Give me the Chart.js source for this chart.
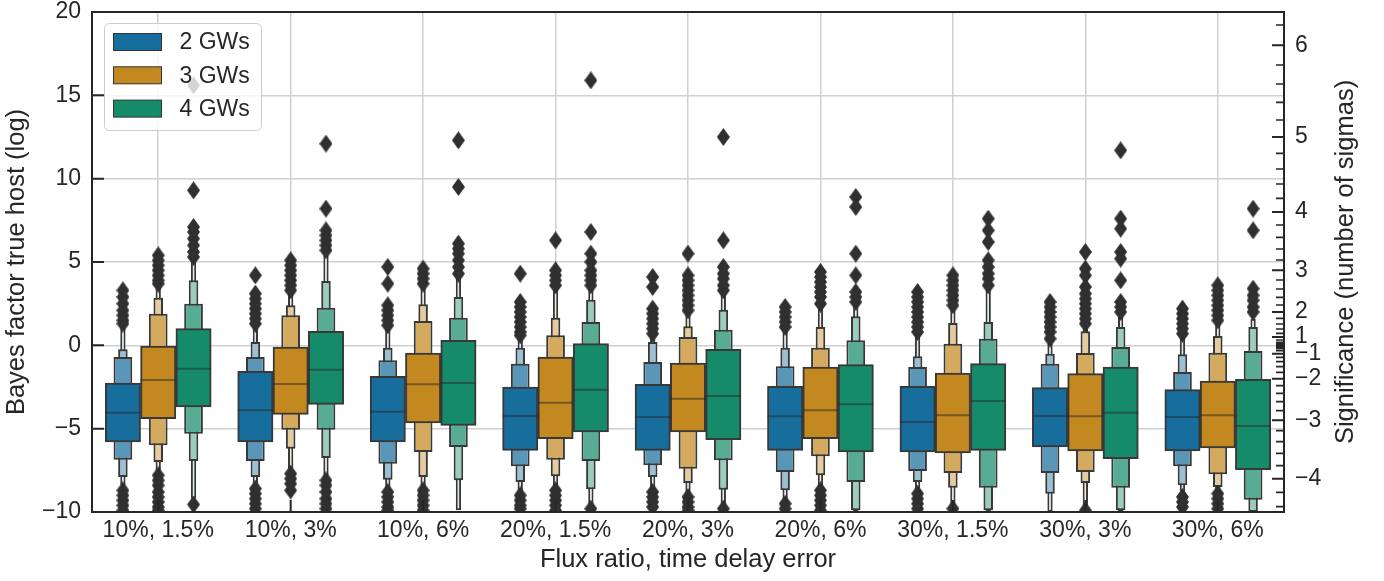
<!DOCTYPE html>
<html>
<head>
<meta charset="utf-8">
<script src="https://cdn.jsdelivr.net/npm/chart.js@4.4.0/dist/chart.umd.min.js"></script>
<style>
  html, body { margin: 0; padding: 0; background: #fff; }
  #wrap { width: 1384px; height: 581px; }
</style>
</head>
<body>
<div id="wrap"><canvas id="boxen-chart" width="1384" height="581"></canvas></div>
<script>
const categories = ["10%, 1.5%", "10%, 3%", "10%, 6%", "20%, 1.5%", "20%, 3%", "20%, 6%", "30%, 1.5%", "30%, 3%", "30%, 6%"]
const groups = ["2 GWs", "3 GWs", "4 GWs"]
const groupColors = ["#176d9c", "#c38820", "#168b6a"]
const yTicks = [-10, -5, 0, 5, 10, 15, 20]
const sigmaTicks = [6, 5, 4, 3, 2, 1, -1, -2, -3, -4]

// letter values per box: [L4 lo, L3 lo, L2 lo, Q1, median, Q3, L2 hi, L3 hi, L4 hi]
const lv2GW = [
  [-8.4, -7.9, -6.86, -5.8, -4.04, -2.26, -0.7, -0.24, 1.14],
  [-8.4, -7.9, -6.94, -5.8, -3.9, -1.56, -0.7, 0.2, 1.1],
  [-8.6, -8.06, -7.1, -5.8, -3.98, -1.86, -0.9, -0.14, 1.1],
  [-8.8, -8.2, -7.26, -6.3, -4.24, -2.5, -1.1, -0.14, 0.46],
  [-8.6, -7.9, -7.2, -6.3, -4.3, -2.34, -1.0, 0.2, 0.5],
  [-9.3, -8.7, -7.6, -6.3, -4.26, -2.46, -1.26, -0.14, 0.9],
  [-8.7, -8.2, -7.54, -6.4, -4.6, -2.46, -1.3, -0.66, 0.5],
  [-10, -8.9, -7.66, -6.1, -4.24, -2.54, -1.1, -0.5, 0.1],
  [-8.9, -8.4, -7.26, -6.34, -4.3, -2.66, -1.6, -0.54, 0.5]
]
const lv3GW = [
  [-7.5, -7.0, -6.0, -4.4, -2.08, 0.0, 1.9, 2.86, 3.5],
  [-7.4, -6.2, -5.06, -4.14, -2.32, -0.1, 1.8, 2.4, 3.1],
  [-8.5, -7.9, -6.4, -4.66, -2.34, -0.46, 1.46, 2.46, 3.46],
  [-8.5, -7.86, -6.86, -5.6, -3.44, -0.7, 0.6, 1.66, 3.4],
  [-8.9, -8.26, -7.4, -5.2, -3.2, -1.06, 0.5, 1.14, 1.9],
  [-8.5, -7.8, -6.66, -5.6, -3.9, -1.3, -0.14, 1.1, 2.26],
  [-9.6, -8.54, -7.66, -6.46, -4.2, -1.66, 0.1, 1.34, 2.2],
  [-9.7, -8.26, -7.6, -6.34, -4.26, -1.7, -0.46, 0.84, 1.1],
  [-8.7, -8.5, -7.74, -6.16, -4.2, -2.14, -0.44, 0.56, 1.2]
]
const lv4GW = [
  [-9.2, -6.94, -5.3, -3.7, -1.4, 1.0, 2.5, 3.9, 5.1],
  [-7.9, -6.76, -5.06, -3.54, -1.46, 0.84, 2.26, 3.86, 5.4],
  [-9.9, -8.1, -6.1, -4.8, -2.26, 0.3, 1.66, 2.9, 4.1],
  [-9.7, -8.64, -6.94, -5.2, -2.66, 0.1, 1.4, 2.74, 3.4],
  [-9.6, -8.66, -6.9, -5.66, -3.04, -0.24, 0.94, 2.14, 3.1],
  [-10, -9.9, -8.2, -6.4, -3.54, -1.16, 0.3, 1.74, 2.4],
  [-10, -9.9, -8.54, -6.3, -3.34, -1.1, 0.4, 1.4, 3.3],
  [-10, -9.9, -8.54, -6.8, -4.04, -1.3, -0.1, 1.1, 1.7],
  [-10, -10, -9.26, -7.46, -4.84, -2.04, -0.34, 1.1, 1.6]
]

// outliers per box
const fliers2GW = [
  [3.3, 2.9, 2.5, 2.1, 1.8, 1.5, 1.3, -8.7, -9.0, -9.3, -9.6, -9.9],
  [4.2, 3.1, 2.8, 2.5, 2.2, 1.9, 1.6, 1.3, -8.6, -8.9, -9.2, -9.5, -9.8],
  [4.7, 3.7, 2.4, 2.1, 1.8, 1.5, 1.2, -8.8, -9.1, -9.4, -9.7, -9.9],
  [4.3, 2.6, 2.3, 2.0, 1.7, 1.4, 1.1, 0.8, 0.6, -9.0, -9.3, -9.6, -9.8],
  [4.1, 3.5, 2.2, 1.9, 1.6, 1.3, 1.0, 0.7, -8.8, -9.1, -9.4, -9.7],
  [2.3, 2.0, 1.7, 1.4, 1.1, -9.5, -9.8],
  [3.2, 2.9, 2.6, 2.3, 2.0, 1.7, 1.4, 1.1, 0.8, -8.9, -9.2, -9.5, -9.8],
  [2.6, 2.3, 2.0, 1.7, 1.4, 1.1, 0.8, 0.4],
  [2.2, 1.9, 1.6, 1.3, 1.0, 0.7, -9.1, -9.4, -9.7]
]
const fliers3GW = [
  [5.4, 5.1, 4.8, 4.5, 4.2, 3.9, 3.7, -7.8, -8.1, -8.4, -8.8, -9.1, -9.4, -9.7, -9.9],
  [5.1, 4.8, 4.5, 4.2, 3.9, 3.6, 3.3, -7.7, -8.0, -8.3, -8.7],
  [4.6, 4.3, 4.0, 3.7, -8.7, -9.0, -9.3, -9.6, -9.9],
  [6.3, 4.5, 4.2, 3.9, 3.6, -8.7, -9.0, -9.3, -9.6, -9.9],
  [5.5, 4.2, 3.9, 3.6, 3.3, 3.0, 2.7, 2.4, 2.1, -9.1, -9.4, -9.7, -9.9],
  [4.4, 4.1, 3.8, 3.5, 3.2, 2.9, 2.5, -8.7, -9.0, -9.3, -9.6, -9.9],
  [4.2, 3.9, 3.6, 3.3, 3.0, 2.7, 2.4, -9.8],
  [5.6, 4.6, 4.2, 3.5, 3.1, 2.8, 2.5, 2.2, 1.9, 1.6, 1.3, -9.9],
  [3.6, 3.3, 3.0, 2.7, 2.4, 2.1, 1.8, 1.5, -8.9, -9.2, -9.5, -9.8]
]
const fliers4GW = [
  [15.6, 9.3, 7.1, 6.8, 6.4, 6.0, 5.6, 5.3, -9.55],
  [12.1, 8.2, 6.9, 6.6, 6.3, 6.0, 5.7, -8.1, -8.4, -8.8, -9.2, -9.5, -9.8],
  [12.3, 9.5, 6.1, 5.8, 5.5, 5.1, 4.7, 4.3],
  [15.9, 6.8, 5.5, 5.0, 4.5, 4.2, 3.9, 3.6, -9.8],
  [12.5, 6.3, 4.7, 4.3, 4.0, 3.6, 3.3, -9.8],
  [8.9, 8.3, 5.5, 4.2, 3.2, 2.9, 2.6],
  [7.6, 6.9, 6.2, 5.1, 4.7, 4.3, 4.0, 3.6],
  [11.7, 7.6, 7.0, 5.6, 5.2, 3.9, 2.6, 2.3, 2.0],
  [8.2, 6.9, 3.4, 3.0, 2.7, 2.3, 2.0]
]

const letterValues = [lv2GW, lv3GW, lv4GW]
const fliers = [fliers2GW, fliers3GW, fliers4GW]

const edgeColor = "#383838"
const textColor = "#262626"
const gridColor = "#d0d0d0"
const fontFamily = "'Liberation Sans', Arial, sans-serif"
const hueWidth = 0.8 / 3
const levelMix = [0, 0.283, 0.567, 0.85]     // towards white, inner -> outer
const levelWidth = [1, 0.53, 0.27, 0.15]     // fraction of hue width

function fmt(v) {
  return v < 0 ? "\u2212" + Math.abs(v) : String(v)
}

function mixWhite(hex, t) {
  const n = parseInt(hex.slice(1), 16)
  const r = (n >> 16) & 255, g = (n >> 8) & 255, b = n & 255
  const m = c => Math.round(c + (255 - c) * t)
  return `rgb(${m(r)}, ${m(g)}, ${m(b)})`
}

function sigmaToLogB(s) {
  return s * Math.abs(s) / 2
}

function diamondMarker(w, h, color) {
  const c = document.createElement("canvas")
  c.width = w
  c.height = h
  const g = c.getContext("2d")
  g.fillStyle = color
  g.beginPath()
  g.moveTo(w / 2, 0)
  g.lineTo(w, h / 2)
  g.lineTo(w / 2, h)
  g.lineTo(0, h / 2)
  g.closePath()
  g.fill()
  return c
}
const diamond = diamondMarker(13, 18, "#303030")

let datasets = []
groups.forEach((name, g) => {
  const off = (g - 1) * hueWidth
  const lv = letterValues[g]
  // outer levels first so the inner boxes sit on top
  for (let k = 1; k <= 4; k++) {
    datasets.push({
      type: "bar",
      label: name + " L" + k,
      data: categories.map((c, i) => ({x: i + off, y: [lv[i][4 - k], lv[i][4 + k]]})),
      backgroundColor: mixWhite(groupColors[g], levelMix[k - 1]),
      borderColor: edgeColor,
      borderWidth: 2,
      borderSkipped: false,
      grouped: false,
      categoryPercentage: 1,
      barPercentage: levelWidth[k - 1],
      order: 2 + k
    })
  }
  datasets.push({
    type: "scatter",
    label: name + " median",
    data: categories.map((c, i) => ({x: i + off, y: lv[i][4]})),
    pointStyle: "line",
    pointRadius: 17.6,
    pointBorderWidth: 2,
    pointBorderColor: "rgba(40, 40, 40, 0.5)",
    order: 1
  })
  let pts = []
  fliers[g].forEach((vals, i) => vals.forEach(v => pts.push({x: i + off, y: v})))
  datasets.push({
    type: "scatter",
    label: name + " outliers",
    data: pts,
    pointStyle: diamond,
    pointRadius: 6,
    order: 0
  })
})

const frame = {
  id: "frame",
  afterDatasetsDraw(chart) {
    const {ctx, chartArea: a, scales} = chart
    ctx.save()
    ctx.strokeStyle = textColor
    ctx.lineWidth = 2
    ctx.beginPath()
    yTicks.forEach(v => {
      const y = scales.y.getPixelForValue(v)
      ctx.moveTo(a.left, y)
      ctx.lineTo(a.left + 12, y)
    })
    categories.forEach((c, i) => {
      const x = scales.x.getPixelForValue(i)
      ctx.moveTo(x, a.bottom)
      ctx.lineTo(x, a.bottom - 12)
    })
    sigmaTicks.forEach(s => {
      const y = scales.y2.getPixelForValue(sigmaToLogB(s))
      ctx.moveTo(a.right, y)
      ctx.lineTo(a.right - 12, y)
    })
    ctx.stroke()

    // minor ticks every 0.2 sigma
    ctx.lineWidth = 1.6
    ctx.beginPath()
    for (let n = -22; n <= 31; n++) {
      if (n % 5 === 0) continue
      const y = scales.y2.getPixelForValue(sigmaToLogB(n / 5))
      ctx.moveTo(a.right, y)
      ctx.lineTo(a.right - 8, y)
    }
    ctx.stroke()

    ctx.lineWidth = 2
    ctx.strokeRect(a.left, a.top, a.right - a.left, a.bottom - a.top)

    // right axis title reads bottom to top
    ctx.translate(1346, (a.top + a.bottom) / 2)
    ctx.rotate(-Math.PI / 2)
    ctx.fillStyle = textColor
    ctx.font = "25.5px " + fontFamily
    ctx.textAlign = "center"
    ctx.textBaseline = "middle"
    ctx.fillText("Significance (number of sigmas)", 0, 0)
    ctx.restore()
  }
}

const legendBox = {
  id: "legendBox",
  afterDatasetsDraw(chart) {
    const {ctx, chartArea: a} = chart
    const x0 = a.left + 12.5, y0 = a.top + 11.5, w = 157, h = 107, r = 5
    ctx.save()
    ctx.beginPath()
    ctx.moveTo(x0 + r, y0)
    ctx.arcTo(x0 + w, y0, x0 + w, y0 + h, r)
    ctx.arcTo(x0 + w, y0 + h, x0, y0 + h, r)
    ctx.arcTo(x0, y0 + h, x0, y0, r)
    ctx.arcTo(x0, y0, x0 + w, y0, r)
    ctx.closePath()
    ctx.fillStyle = "rgba(255, 255, 255, 0.8)"
    ctx.fill()
    ctx.strokeStyle = "#cccccc"
    ctx.lineWidth = 1
    ctx.stroke()
    ctx.font = "23px " + fontFamily
    ctx.textBaseline = "middle"
    groups.forEach((name, i) => {
      const cy = y0 + 18.5 + i * 33.3
      ctx.fillStyle = groupColors[i]
      ctx.fillRect(x0 + 9, cy - 8.5, 48, 17)
      ctx.strokeStyle = "#333333"
      ctx.strokeRect(x0 + 9, cy - 8.5, 48, 17)
      ctx.fillStyle = textColor
      ctx.fillText(name, x0 + 75, cy + 1)
    })
    ctx.restore()
  }
}

function fixVertical(width) {
  return s => {
    s.width = width
    s.paddingTop = 0
    s.paddingBottom = 0
  }
}

Chart.defaults.font.family = fontFamily
Chart.defaults.color = textColor

const ctx = document.getElementById("boxen-chart").getContext("2d")
new Chart(ctx, {
  type: "bar",
  data: {datasets: datasets},
  plugins: [frame, legendBox],
  options: {
    responsive: false,
    devicePixelRatio: 1,
    animation: false,
    events: [],
    layout: {autoPadding: false, padding: {top: 12, left: 0, right: 0, bottom: 0}},
    plugins: {
      legend: {display: false},
      tooltip: {enabled: false}
    },
    scales: {
      x: {
        type: "linear",
        min: -0.5,
        max: 8.5,
        offset: false,
        afterBuildTicks: s => { s.ticks = categories.map((c, i) => ({value: i})) },
        afterFit: s => { s.height = 69; s.paddingLeft = 0; s.paddingRight = 0 },
        grid: {color: gridColor, lineWidth: 1.5, drawTicks: false, offset: false},
        border: {display: false},
        ticks: {
          callback: (v, i) => categories[i],
          font: {size: 23, lineHeight: 1.2},
          padding: 5,
          maxRotation: 0,
          autoSkip: false
        },
        title: {display: true, text: "Flux ratio, time delay error", font: {size: 25.5}, padding: {top: 0, bottom: 6}}
      },
      y: {
        position: "left",
        min: -10,
        max: 20,
        afterBuildTicks: s => { s.ticks = yTicks.map(v => ({value: v})) },
        afterFit: fixVertical(92),
        grid: {color: gridColor, lineWidth: 1.5, drawTicks: false},
        border: {display: false},
        ticks: {callback: v => fmt(v), font: {size: 23, lineHeight: 1}, padding: 11, autoSkip: false},
        title: {display: true, text: "Bayes factor true host (log)", font: {size: 25.5}, padding: {top: 2, bottom: 0}}
      },
      y2: {
        position: "right",
        min: -10,
        max: 20,
        afterBuildTicks: s => { s.ticks = sigmaTicks.map(v => ({value: sigmaToLogB(v)})) },
        afterFit: fixVertical(100),
        grid: {display: false, drawTicks: false},
        border: {display: false},
        ticks: {callback: (v, i) => fmt(sigmaTicks[i]), font: {size: 23, lineHeight: 1}, padding: 11, autoSkip: false}
      }
    }
  }
})
</script>
</body>
</html>
